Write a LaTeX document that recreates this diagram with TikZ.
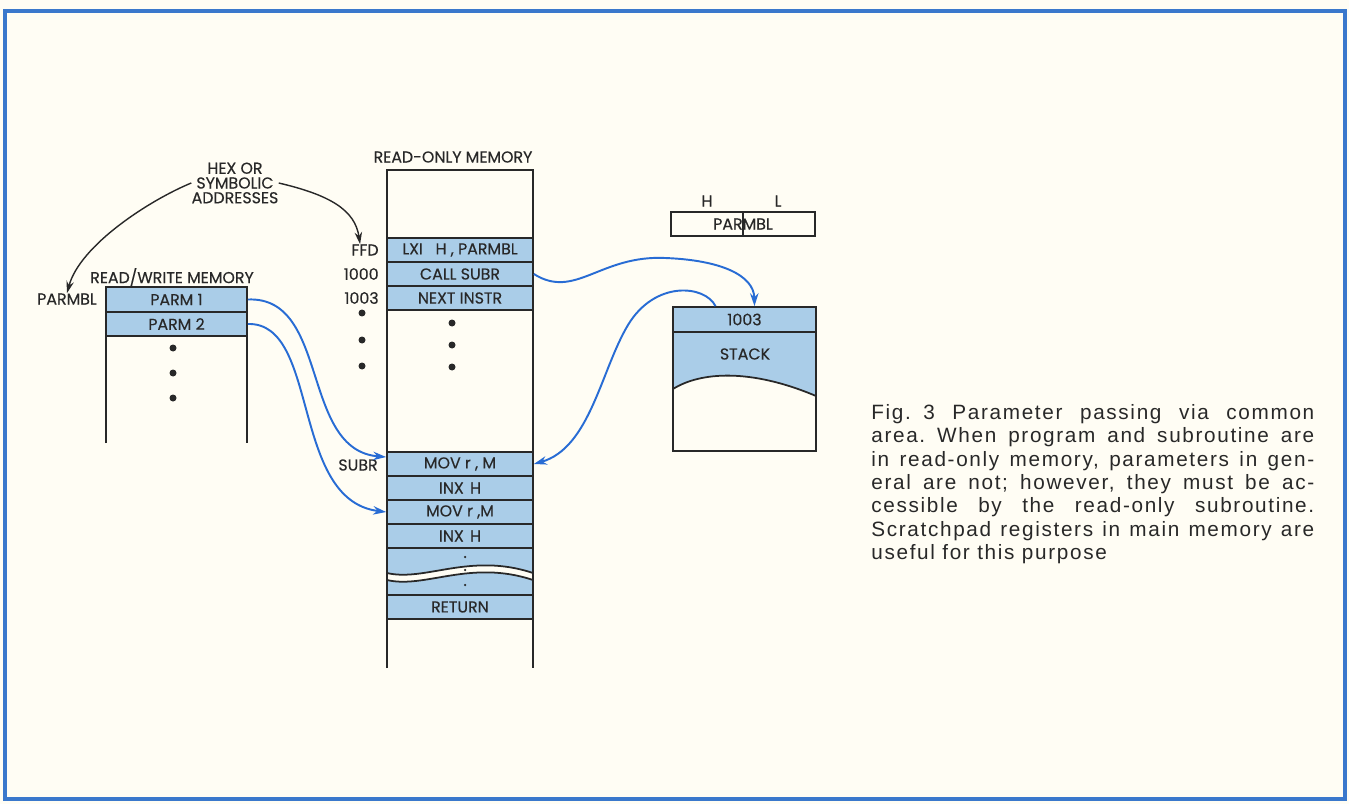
\documentclass[tikz,border=0pt]{standalone}
\usepackage{fontspec}
\setmainfont{Liberation Sans}
\newfontfamily\lblfont[FakeBold=0.3]{Poppins}
\newfontfamily\capfont[LetterSpace=8]{Liberation Sans}
\usetikzlibrary{arrows.meta}
\definecolor{paper}{RGB}{255,253,244}
\definecolor{framec}{RGB}{58,120,204}
\definecolor{cellc}{RGB}{170,205,232}
\definecolor{linkc}{RGB}{40,108,212}
\definecolor{inkc}{RGB}{40,40,40}
\newcommand{\capline}[1]{\makebox[8.86cm][s]{#1}}
\frenchspacing

\begin{document}
\begin{tikzpicture}[
    x=0.02cm, y=-0.02cm,
    font=\lblfont\fontsize{9}{10}\selectfont,
    % memory cells
    rom/.style={rectangle, draw=inkc, line width=1pt, fill=cellc, text=inkc,
        minimum width=2.92cm, minimum height=0.48cm, inner sep=0pt},
    ram/.style={rom, minimum width=2.82cm, minimum height=0.49cm},
    addr/.style={anchor=east, inner sep=0pt, text=inkc},
    lbl/.style={inner sep=0pt, text=inkc},
    wall/.style={draw=inkc, line width=1pt},
    link/.style={draw=linkc, line width=1.1pt, -{Stealth[length=2.6mm, width=1.7mm]}},
    note/.style={draw=inkc, line width=0.8pt, -{Stealth[length=2.4mm, width=1.5mm]}},
]

% background and frame
\fill[paper] (0,0) rectangle (1349,804);
\draw[framec, line width=0.08cm] (5,11) rectangle (1345,799);

% =========================================================
% Read/write memory
% =========================================================
\draw[wall] (106,443) -- (106,287) -- (247,287) -- (247,443);
\node[lbl] (rwlbl) at (172,277) {READ/WRITE MEMORY};
\node[ram] (parm1) at (176.5,299.5) {PARM 1};
\node[ram] (parm2) at (176.5,324) {PARM 2};
\node[lbl] (parmbl) at (67,299) {PARMBL};
\foreach \y in {348,373,398} \fill[inkc] (173,\y) circle (0.07cm);

% =========================================================
% Read-only memory
% =========================================================
\draw[wall] (387,668) -- (387,170) -- (533,170) -- (533,668);
\node[lbl] (romlbl) at (453,157) {READ-ONLY MEMORY};

% main program
\node[rom] (lxi)  at (460,250) {LXI\hspace{0.8em}H , PARMBL};
\node[rom] (call) at (460,274) {CALL SUBR};
\node[rom] (next) at (460,298) {NEXT INSTR};
\node[addr] (ffd)   at (379,250) {FFD};
\node[addr] (a1000) at (379,274) {1000};
\node[addr] (a1003) at (379,298) {1003};
\foreach \y in {313,340,366} \fill[inkc] (362,\y) circle (0.07cm);
\foreach \y in {323,345,367} \fill[inkc] (452,\y) circle (0.07cm);

% subroutine
\node[rom] (mov1) at (460,464) {MOV r , M};
\node[rom] (inx1) at (460,488) {INX\hspace{0.4em}H};
\node[rom] (mov2) at (460,512) {MOV r ,M};
\node[rom] (inx2) at (460,536) {INX\hspace{0.4em}H};
\node[addr] (subr) at (378,465) {SUBR};

% broken part of the listing
\filldraw[fill=cellc, draw=inkc, line width=1pt] (387,548) -- (533,548) -- (533,573)
    .. controls (470,552) and (425,582) .. (387,573) -- cycle;
\filldraw[fill=cellc, draw=inkc, line width=1pt] (387,580)
    .. controls (425,589) and (470,559) .. (533,580) -- (533,595) -- (387,595) -- cycle;
\node[rom] (ret) at (460,607) {RETURN};
\foreach \y in {557,570,585} \fill[inkc] (465,\y) circle (0.025cm);

% =========================================================
% Register pair and stack
% =========================================================
\node[lbl] (hreg) at (707,201) {H};
\node[lbl] (lreg) at (778,201) {L};
\node[rom, fill=none, minimum width=2.88cm] (reg) at (743,224) {PARMBL};
\draw[wall] (reg.north) -- (reg.south);

\fill[cellc] (673,332) -- (816,332) -- (816,396)
    .. controls (750,368) and (700,372) .. (673,389) -- cycle;
\draw[wall] (673,389) .. controls (700,372) and (750,368) .. (816,396);
\draw[wall] (673,332) rectangle (816,451);
\node[rom, minimum width=2.86cm, minimum height=0.5cm] (top1003) at (744.5,319.5) {1003};
\node[lbl] (stklbl) at (745,354) {STACK};

% =========================================================
% Address note and links
% =========================================================
\node[lbl, align=center, font=\lblfont\fontsize{9}{8.4}\selectfont] (hexlbl) at (235,183)
    {HEX OR\\SYMBOLIC\\ADDRESSES};
\draw[note] (hexlbl.west) .. controls (150,200) and (80,245) .. (parmbl.north);
\draw[note] (hexlbl.east) .. controls (330,195) and (355,210) .. ([xshift=-0.1cm]ffd.north);

\draw[link] (parm1.east) .. controls (330,296) and (300,450) .. ([yshift=0.14cm]mov1.west);
\draw[link] (parm2.east) .. controls (320,322) and (290,500) .. (mov2.west);
\draw[link] (call.east) .. controls (575,300) and (600,255) .. (665,258)
    .. controls (720,260) and (754,275) .. ([xshift=0.2cm]top1003.north);
\draw[link] ([xshift=-0.58cm]top1003.north) .. controls (705,285) and (655,280) .. (628,325)
    .. controls (601,370) and (590,448) .. (mov1.east);

% caption
\node[anchor=north west, inner sep=0pt, align=left, text=inkc,
    font=\capfont\fontsize{11.8}{13.3}\selectfont] (caption) at (871,404) {%
    \capline{Fig.\hspace{0.6em}3 Parameter passing via common}\\
    \capline{area. When program and subroutine are}\\
    \capline{in read-only memory, parameters in gen-}\\
    \capline{eral are not; however, they must be ac-}\\
    \capline{cessible by the read-only subroutine.}\\
    \capline{Scratchpad registers in main memory are}\\
    useful for this purpose};
\end{tikzpicture}
\end{document}
